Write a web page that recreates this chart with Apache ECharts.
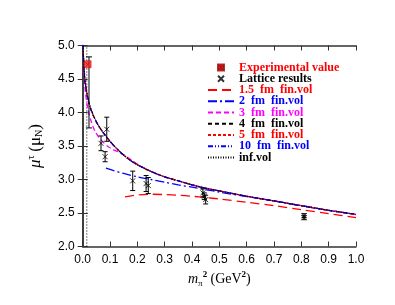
<!DOCTYPE html>
<html><head><meta charset="utf-8">
<script src="https://cdn.jsdelivr.net/npm/echarts@6/dist/echarts.min.js"></script>
<style>html,body{margin:0;padding:0;background:#fff}#c{width:395px;height:305px}</style>
</head><body><div id="c"></div>
<script>
// x = m_pi^2 (GeV^2), y = magnetic moment (mu_N)
const xTicks = [0.0,0.1,0.2,0.3,0.4,0.5,0.6,0.7,0.8,0.9,1.0];
const yTicks = [2.0,2.5,3.0,3.5,4.0,4.5,5.0];

const expValue = [[0.018, 4.72]];
const expError = [[0.023, 3.77, 4.83]];
const physLine = [[0.015, 2.0],[0.015, 5.0]];

const latticeX   = [0.067, 0.088, 0.082, 0.183, 0.232, 0.240, 0.440, 0.445, 0.450, 0.810, 0.810];
const latticeY   = [3.54, 3.75, 3.34, 2.98, 2.94, 2.91, 2.80, 2.75, 2.70, 2.46, 2.43];
const latticeErr = [0.11, 0.18, 0.075, 0.145, 0.12, 0.12, 0.06, 0.05, 0.065, 0.03, 0.03];

const vol15 = [[0.155,2.74],[0.2,2.77],[0.25,2.78],[0.3,2.775],[0.35,2.765],[0.4,2.75],[0.45,2.73],[0.5,2.71],[0.6,2.66],[0.7,2.61],[0.8,2.55],[0.9,2.49],[1.0,2.43]];
const vol2  = [[0.085,3.17],[0.1,3.15],[0.15,3.09],[0.2,3.04],[0.25,3.0],[0.3,2.96],[0.35,2.92],[0.4,2.885],[0.45,2.85],[0.5,2.81],[0.6,2.745],[0.7,2.68],[0.8,2.605],[0.9,2.54],[1.0,2.48]];
const vol3  = [[0.004,4.62],[0.01,4.3],[0.02,4.03],[0.03,3.88],[0.045,3.72],[0.065,3.6],[0.09,3.5],[0.11,3.45],[0.13,3.41],[0.15,3.37],[0.2,3.23],[0.25,3.12],[0.3,3.04],[0.35,2.98],[0.4,2.92],[0.45,2.87],[0.5,2.83],[0.6,2.75],[0.7,2.68],[0.8,2.61],[0.9,2.54],[1.0,2.48]];
const vol4  = [[0.002,4.9],[0.006,4.57],[0.01,4.41],[0.015,4.28],[0.02,4.18],[0.03,4.04],[0.04,3.94],[0.05,3.86],[0.06,3.79],[0.075,3.7],[0.09,3.62],[0.1,3.57],[0.12,3.48],[0.14,3.4],[0.16,3.33],[0.18,3.27],[0.2,3.22],[0.25,3.12],[0.3,3.04],[0.35,2.98],[0.4,2.92],[0.45,2.87],[0.5,2.83],[0.6,2.75],[0.7,2.68],[0.8,2.61],[0.9,2.54],[1.0,2.48]];
const vol5  = [[0.002,4.9],[0.006,4.58],[0.01,4.42],[0.015,4.29],[0.02,4.19],[0.03,4.05],[0.04,3.95],[0.05,3.86],[0.06,3.79],[0.075,3.7],[0.09,3.62],[0.1,3.57],[0.12,3.48],[0.14,3.4],[0.16,3.33],[0.18,3.27],[0.2,3.22],[0.25,3.12],[0.3,3.04],[0.35,2.98],[0.4,2.92],[0.45,2.87],[0.5,2.83],[0.6,2.75],[0.7,2.68],[0.8,2.61],[0.9,2.54],[1.0,2.475]];
const vol10 = [[0.001,5.02],[0.003,4.82],[0.006,4.6],[0.01,4.43],[0.015,4.3],[0.02,4.2],[0.03,4.05],[0.04,3.95],[0.05,3.86],[0.06,3.79],[0.075,3.7],[0.09,3.62],[0.1,3.57],[0.12,3.48],[0.14,3.4],[0.16,3.33],[0.18,3.27],[0.2,3.22],[0.25,3.12],[0.3,3.04],[0.35,2.98],[0.4,2.92],[0.45,2.87],[0.5,2.83],[0.6,2.75],[0.7,2.68],[0.8,2.61],[0.9,2.54],[1.0,2.48]];
const infVol = [[0.001,5.03],[0.003,4.83],[0.006,4.61],[0.01,4.44],[0.015,4.3],[0.02,4.2],[0.03,4.05],[0.04,3.95],[0.05,3.86],[0.06,3.79],[0.075,3.7],[0.09,3.62],[0.1,3.57],[0.12,3.48],[0.14,3.4],[0.16,3.33],[0.18,3.27],[0.2,3.22],[0.25,3.12],[0.3,3.04],[0.35,2.98],[0.4,2.92],[0.45,2.87],[0.5,2.83],[0.6,2.75],[0.7,2.68],[0.8,2.61],[0.9,2.54],[1.0,2.48]];

const legendNames = ['Experimental value','Lattice results','1.5  fm  fin.vol','2  fm  fin.vol','3  fm  fin.vol','4  fm  fin.vol','5  fm  fin.vol','10  fm  fin.vol','inf.vol'];
const legendColors = ['#ff0000','#000000','#ff0000','#0000ff','#ff00ff','#000000','#ff0000','#0000ff','#000000'];

const latticePts = latticeX.map((x,i)=>[x, latticeY[i]]);
const latticeBars = latticeX.map((x,i)=>[x, latticeY[i]-latticeErr[i], latticeY[i]+latticeErr[i]]);

function errRender(capW){
  return function(params, api){
    const x = api.value(0), lo = api.value(1), hi = api.value(2);
    const p1 = api.coord([x, lo]), p2 = api.coord([x, hi]);
    const style = {stroke:'#000', lineWidth:1};
    return {type:'group', children:[
      {type:'line', shape:{x1:p1[0],y1:p1[1],x2:p2[0],y2:p2[1]}, style:style},
      {type:'line', shape:{x1:p1[0]-capW,y1:p1[1],x2:p1[0]+capW,y2:p1[1]}, style:style},
      {type:'line', shape:{x1:p2[0]-capW,y1:p2[1],x2:p2[0]+capW,y2:p2[1]}, style:style}
    ]};
  };
}

function lineSeries(name, data, color, dash, width){
  return {name:name, type:'line', data:data, symbol:'circle', showSymbol:false, smooth:0.3,
    lineStyle:{color:color, width:width||1.2, type:dash}, itemStyle:{color:color}, z:3};
}

const tickFont = {fontFamily:'Liberation Sans', fontSize:12, color:'#000'};
const axisLine = {show:true, lineStyle:{color:'#333', width:1.5}};
const axisTick = {show:true, inside:true, length:5, lineStyle:{color:'#333', width:1}};
const hiddenIcon = {color:'rgba(0,0,0,0)', borderColor:'rgba(0,0,0,0)', borderWidth:0, opacity:0};

const chart = echarts.init(document.getElementById('c'));
chart.setOption({
  animation:false,
  backgroundColor:'#fff',
  grid:{left:82.7, right:39, top:45.5, bottom:58.5},
  xAxis:[
    {type:'value', min:0, max:1, interval:0.1, axisLine:axisLine, axisTick:axisTick, splitLine:{show:false},
     axisLabel:Object.assign({margin:7, formatter:v=>v.toFixed(1)}, tickFont),
     name:'{m|m}{s|π}{p|2} {t|(GeV}{p|2}{t|)}', nameLocation:'middle', nameGap:18,
     nameTextStyle:{rich:{
       m:{fontFamily:'Liberation Serif', fontStyle:'italic', fontSize:14, color:'#000'},
       s:{fontFamily:'Liberation Serif', fontSize:9, color:'#000', verticalAlign:'bottom', padding:[9,0,0,0]},
       p:{fontFamily:'Liberation Serif', fontSize:9, fontWeight:'bold', color:'#000', verticalAlign:'top', padding:[0,0,6,0]},
       t:{fontFamily:'Liberation Serif', fontSize:14, color:'#000'}}}},
    {type:'value', position:'top', min:0, max:1, interval:0.1, axisLine:axisLine, axisTick:axisTick, axisLabel:{show:false}, splitLine:{show:false}}
  ],
  yAxis:[
    {type:'value', min:2, max:5, interval:0.5, axisLine:axisLine, axisTick:axisTick, splitLine:{show:false},
     axisLabel:Object.assign({margin:8, formatter:v=>v.toFixed(1)}, tickFont),
     name:'{m|μ}{p|τ} {t|(μ}{s|N}{t|)}', nameLocation:'middle', nameGap:38, nameRotate:90,
     nameTextStyle:{rich:{
       m:{fontFamily:'Liberation Serif', fontStyle:'italic', fontSize:17, color:'#000'},
       s:{fontFamily:'Liberation Serif', fontSize:10, color:'#000', verticalAlign:'bottom', padding:[9,0,0,0]},
       p:{fontFamily:'Liberation Serif', fontSize:11, color:'#000', verticalAlign:'top', padding:[0,0,8,0]},
       t:{fontFamily:'Liberation Serif', fontSize:17, color:'#000'}}}},
    {type:'value', position:'right', min:2, max:5, interval:0.5, axisLine:axisLine, axisTick:axisTick, axisLabel:{show:false}, splitLine:{show:false}}
  ],
  legend:{orient:'vertical', left:202, top:56.5, itemWidth:26, itemHeight:6, itemGap:-0.75, padding:5,
    textStyle:{fontFamily:'Liberation Serif', fontWeight:'bold', fontSize:12, lineHeight:10.6},
    data:legendNames.map((n,i)=>{
      const d = {name:n, textStyle:{color:legendColors[i]}};
      if (i >= 2) d.itemStyle = hiddenIcon;
      return d;
    })},
  series:[
    {name:'physical', type:'line', data:physLine, symbol:'circle', showSymbol:false, lineStyle:{color:'#000', width:1, type:[1,2]}, z:2, silent:true},
    lineSeries(legendNames[2], vol15, '#ff0000', [9,5], 1.3),
    lineSeries(legendNames[3], vol2, '#0000ff', [9,3,2,3], 1.3),
    lineSeries(legendNames[4], vol3, '#ff00ff', [5,3], 1.3),
    lineSeries(legendNames[5], vol4, '#000000', [4,3], 1.2),
    lineSeries(legendNames[6], vol5, '#ff0000', [3,2], 1.2),
    lineSeries(legendNames[7], vol10, '#0000ff', [5,2,1,2,1,2], 1.2),
    lineSeries(legendNames[8], infVol, '#000000', [1,1.5], 1.2),
    {type:'custom', data:latticeBars, encode:{x:0, y:[1,2]}, renderItem:errRender(2.5), z:4, silent:true},
    {type:'custom', data:expError, encode:{x:0, y:[1,2]}, renderItem:errRender(3), z:4, silent:true},
    {name:legendNames[1], type:'scatter', data:latticePts, symbol:'path://M0,0L10,10M10,0L0,10', symbolSize:5,
     itemStyle:{color:'none', borderColor:'#000', borderWidth:1}, z:5},
    {name:legendNames[0], type:'scatter', data:expValue, symbol:'path://M0,0H10V10H0ZM2,2L8,8M8,2L2,8', symbolSize:7,
     itemStyle:{color:'#ff2020', borderColor:'#a00000', borderWidth:0.6}, z:6}
  ]
});
</script></body></html>
